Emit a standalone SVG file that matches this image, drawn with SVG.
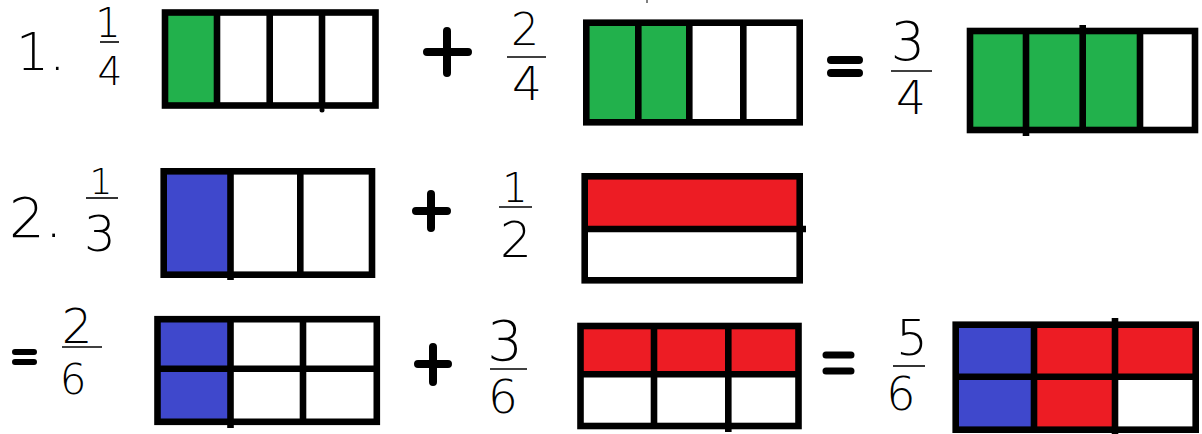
<svg xmlns="http://www.w3.org/2000/svg" width="1202" height="434" viewBox="0 0 1202 434">
<style>
.bg{fill:#fff}
.frame{fill:none;stroke:#000;stroke-width:6.6}
.div{stroke:#000;stroke-width:6.6;stroke-linecap:butt}
.g{fill:#22B14C}
.b{fill:#3F48CC}
.r{fill:#ED1C24}
.op{stroke:#000;stroke-width:8;stroke-linecap:round;fill:none}
.bar{stroke:#000;stroke-width:1.6}
.num{font-family:"DejaVu Sans",sans-serif;font-weight:200;fill:#000;text-anchor:middle}
.lbl{font-family:"DejaVu Sans",sans-serif;font-weight:200;fill:#000}
</style>
<rect width="1202" height="434" fill="#fff"/>
<line x1="647" y1="0" x2="647" y2="3" stroke="#000" stroke-width="1"/>

<!-- Row 1 -->
<g id="label1"><text class="lbl" x="16" y="70" font-size="52">1.</text></g>
<g id="frac-1-4">
<text class="num" x="108" y="37" font-size="40">1</text>
<line class="bar" x1="100" y1="42" x2="119" y2="42"/>
<text class="num" x="110" y="85" font-size="39">4</text>
</g>
<g id="box-1-4">
<rect class="bg" x="165" y="12.5" width="210.5" height="93"/>
<rect class="g" x="165" y="12.5" width="52" height="93"/>
<line class="div" x1="217" y1="12.5" x2="217" y2="105.5"/>
<line class="div" x1="269.7" y1="12.5" x2="269.7" y2="105.5"/>
<line class="div" x1="322" y1="12.5" x2="322" y2="105.5"/>
<circle cx="322" cy="110" r="2.5"/>
<rect class="frame" x="165" y="12.5" width="210.5" height="93"/>
</g>
<g id="plus1"><path class="op" d="M427,52 H468 M447,31 V73"/></g>
<g id="frac-2-4">
<text class="num" x="525" y="45" font-size="44">2</text>
<line class="bar" x1="507" y1="57" x2="546" y2="57"/>
<text class="num" x="527" y="100" font-size="47">4</text>
</g>
<g id="box-2-4">
<rect class="bg" x="586.3" y="22.7" width="213.4" height="99.6"/>
<rect class="g" x="586.3" y="22.7" width="103" height="99.6"/>
<line class="div" x1="638.3" y1="22.7" x2="638.3" y2="122.3"/>
<line class="div" x1="689.3" y1="22.7" x2="689.3" y2="122.3"/>
<line class="div" x1="743.3" y1="22.7" x2="743.3" y2="122.3"/>
<rect class="frame" x="586.3" y="22.7" width="213.4" height="99.6"/>
</g>
<g id="equals1"><path class="op" d="M831,60 H859 M831,73 H859"/></g>
<g id="frac-3-4">
<text class="num" x="908" y="60" font-size="54">3</text>
<line class="bar" x1="891" y1="71" x2="932" y2="71"/>
<text class="num" x="911" y="114" font-size="47">4</text>
</g>
<g id="box-3-4">
<rect class="bg" x="970" y="31" width="225" height="99"/>
<rect class="g" x="970" y="31" width="170" height="99"/>
<line class="div" x1="1026" y1="31" x2="1026" y2="136"/>
<line class="div" x1="1082.7" y1="25" x2="1082.7" y2="130"/>
<line class="div" x1="1140" y1="31" x2="1140" y2="130"/>
<rect class="frame" x="970" y="31" width="225" height="99"/>
</g>

<!-- Row 2 -->
<g id="label2"><text class="lbl" x="9" y="237" font-size="56">2.</text></g>
<g id="frac-1-3">
<text class="num" x="101" y="194" font-size="36">1</text>
<line class="bar" x1="86" y1="198" x2="118" y2="198"/>
<text class="num" x="100" y="251" font-size="50">3</text>
</g>
<g id="box-1-3">
<rect class="bg" x="163.7" y="171.3" width="208.3" height="103.4"/>
<rect class="b" x="163.7" y="171.3" width="66.8" height="103.4"/>
<line class="div" x1="230.5" y1="171.3" x2="230.5" y2="280"/>
<line class="div" x1="300.3" y1="171.3" x2="300.3" y2="274.7"/>
<rect class="frame" x="163.7" y="171.3" width="208.3" height="103.4"/>
</g>
<g id="plus2"><path class="op" d="M416,211 H447 M431,194 V228"/></g>
<g id="frac-1-2">
<text class="num" x="515" y="202" font-size="40">1</text>
<line class="bar" x1="499" y1="207" x2="532" y2="207"/>
<text class="num" x="516" y="257" font-size="50">2</text>
</g>
<g id="box-1-2">
<rect class="bg" x="584.7" y="176.3" width="215" height="104"/>
<rect class="r" x="584.7" y="176.3" width="215" height="52.7"/>
<line class="div" x1="584.7" y1="229" x2="806" y2="229"/>
<rect class="frame" x="584.7" y="176.3" width="215" height="104"/>
</g>

<!-- Row 3 -->
<g id="equals2"><path class="op" style="stroke-width:6" d="M15,352 H34 M15,362 H34"/></g>
<g id="frac-2-6">
<text class="num" x="77" y="343" font-size="48">2</text>
<line class="bar" x1="62" y1="347" x2="102" y2="347"/>
<text class="num" x="73" y="394" font-size="42">6</text>
</g>
<g id="box-2-6">
<rect class="bg" x="157.5" y="319.2" width="219.3" height="102.6"/>
<rect class="b" x="157.5" y="319.2" width="73" height="102.6"/>
<line class="div" x1="157.5" y1="368.8" x2="376.8" y2="368.8"/>
<line class="div" x1="230.5" y1="319.2" x2="230.5" y2="428"/>
<line class="div" x1="303" y1="319.2" x2="303" y2="421.8"/>
<rect class="frame" x="157.5" y="319.2" width="219.3" height="102.6"/>
</g>
<g id="plus3"><path class="op" d="M418,364 H448 M433,347 V382"/></g>
<g id="frac-3-6">
<text class="num" x="505" y="360" font-size="56">3</text>
<line class="bar" x1="490" y1="369" x2="527" y2="369"/>
<text class="num" x="503" y="413" font-size="47">6</text>
</g>
<g id="box-3-6">
<rect class="bg" x="580.5" y="326" width="218" height="100"/>
<rect class="r" x="580.5" y="326" width="218" height="48.2"/>
<line class="div" x1="580.5" y1="374.2" x2="798.5" y2="374.2"/>
<line class="div" x1="654" y1="326" x2="654" y2="426"/>
<line class="div" x1="728.3" y1="326" x2="728.3" y2="432"/>
<rect class="frame" x="580.5" y="326" width="218" height="100"/>
</g>
<g id="equals3"><path class="op" style="stroke-width:7" d="M826,355 H851 M826,371 H851"/></g>
<g id="frac-5-6">
<text class="num" x="912" y="355" font-size="50">5</text>
<line class="bar" x1="893" y1="366" x2="925" y2="366"/>
<text class="num" x="901" y="410" font-size="46">6</text>
</g>
<g id="box-5-6">
<rect class="bg" x="955.7" y="324.7" width="240" height="105"/>
<rect class="b" x="955.7" y="324.7" width="78.3" height="105"/>
<rect class="r" x="1034" y="324.7" width="161.7" height="52"/>
<rect class="r" x="1034" y="376.7" width="81" height="53"/>
<line class="div" x1="955.7" y1="376.7" x2="1195.7" y2="376.7"/>
<line class="div" x1="1034" y1="324.7" x2="1034" y2="429.7"/>
<line class="div" x1="1115" y1="318" x2="1115" y2="434"/>
<rect class="frame" x="955.7" y="324.7" width="240" height="105"/>
</g>
</svg>
